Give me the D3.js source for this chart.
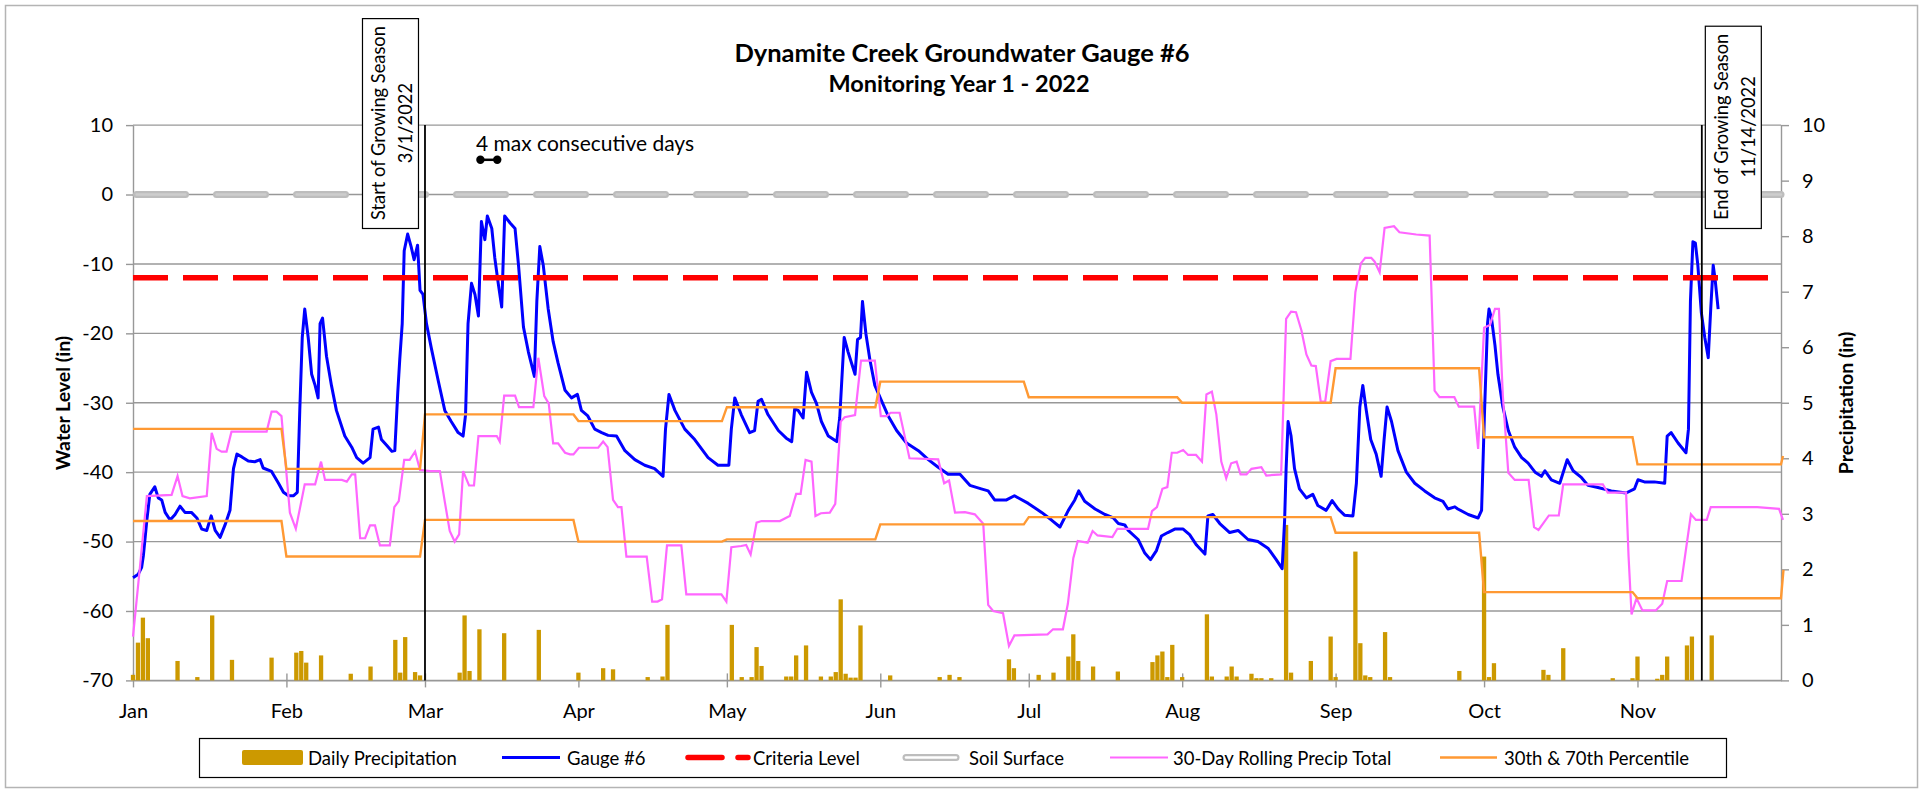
<!DOCTYPE html>
<html><head><meta charset="utf-8">
<script src="https://cdn.jsdelivr.net/npm/d3@7"></script>
<style>
body{margin:0;background:#fff;}
svg{display:block;font-family:Lato,"Liberation Sans",sans-serif;}
</style>
</head><body>
<svg id="c" width="1929" height="789"></svg>
<script>
// ---------------- DATA ----------------
const monthLabels = ["Jan","Feb","Mar","Apr","May","Jun","Jul","Aug","Sep","Oct","Nov"];
const levelTicks = [10,0,-10,-20,-30,-40,-50,-60,-70];
const precipTicks = [0,1,2,3,4,5,6,7,8,9,10];
const titleLines = ["Dynamite Creek Groundwater Gauge #6","Monitoring Year 1 - 2022"];
const legendLabels = ["Daily Precipitation","Gauge #6","Criteria Level","Soil Surface","30-Day Rolling Precip Total","30th & 70th Percentile"];

// day offsets from 2022-01-01
const gaugeDay = [0,1.07,1.75,2.1,2.8,3.4,4.4,5.1,5.8,6.5,7.5,8.5,9.5,10.5,11.8,12.9,13.9,14.9,15.8,16.6,17.6,18.6,19.6,20.3,21,22,23.3,24.6,25.7,26.3,28,29.4,30.4,31.4,32.4,33.2,33.7,34.2,34.7,35.4,36.1,36.8,37.4,37.8,38.3,39.1,40.1,41.1,42.8,44.2,45.2,46.5,47.9,48.5,49.6,50.2,51.2,52.3,52.9,53.5,53.9,54.4,54.8,55.5,56.2,56.8,57.5,58,58.6,59.3,60.3,61.7,63,64.3,65.7,66.7,67.2,67.7,68.4,69.1,69.8,70.4,71.1,71.6,72.5,73.1,73.8,74.5,75.1,76.2,77.2,77.9,78.9,79.9,81.1,81.6,82.2,82.9,83.9,84.9,85.9,87.3,88.6,89.8,90.6,91.9,93.3,94.7,96,97.7,99.4,101.4,103.4,105.4,107.1,107.6,108.3,109.5,111.5,113.5,116.2,118.2,120.4,120.9,121.6,122.9,124.6,125.6,126.3,127,128.3,130.4,132,133.1,133.7,134.4,135.4,136.1,137.1,138.1,139.1,140.5,142.2,142.8,143.7,144.5,145.9,146.4,147,147.4,148.1,148.9,149.9,151.3,152.6,154.3,156.3,158.7,160.7,162.7,164.7,167.1,169.1,171.4,172.8,174.1,176.5,178.1,180.9,183.6,185.6,187.3,189,190.3,191.1,192.3,194.4,196.4,198.1,199.1,200.4,201.1,203.1,204.4,205.6,206.8,207.8,209.1,210.5,212.2,213.5,214.9,216.6,217.2,218.2,219.6,221.6,223.3,225.3,227.3,229.4,231,232.2,232.7,233,233.4,234,234.7,235.7,237.1,238.4,239.4,241.1,242.3,243.5,244.8,246.5,247.2,247.9,248.5,249.2,250.1,251.2,252.2,252.8,253.4,254.3,255.6,257.3,259,261,263,264.7,265.7,267.1,267.7,269.8,271.8,272.5,273.1,273.7,274,274.5,275.2,275.8,276.8,277.9,279.2,280.6,281.9,283.3,284.6,285.3,286.6,288.3,289.8,291,292.7,294,296,298.7,301.7,303.4,304.1,305.4,307.4,309.5,310,310.8,312.2,313.8,314.3,314.7,315.2,315.7,316.2,316.9,317.6,318.3,318.8,319.3,319.7,320.3];
const gaugeLevel = [-55.2,-54.7,-53.7,-52,-46.9,-43.2,-42.1,-43.7,-44,-45.8,-46.9,-46.1,-44.9,-45.8,-45.8,-46.6,-48.2,-48.4,-46.3,-48.4,-49.4,-47.6,-45.5,-39.5,-37.4,-37.8,-38.4,-38.5,-38.2,-39.4,-39.9,-41.6,-42.9,-43.4,-43.4,-42.9,-31.1,-20.6,-16.5,-20.6,-25.9,-27.5,-29.3,-18.6,-17.8,-23.3,-27.5,-31.1,-34.8,-36.4,-37.9,-38.7,-37.9,-33.8,-33.5,-35.3,-36.1,-37,-36.9,-28.5,-23.8,-18.6,-8.1,-5.7,-7.5,-9.4,-7.3,-13.8,-14.4,-18.6,-22.2,-26.9,-31.1,-32.7,-34.3,-34.8,-31.7,-18.6,-12.8,-14.4,-17.5,-3.9,-6.5,-3.1,-4.9,-9.1,-12.8,-16.2,-3.1,-4.1,-4.9,-10.2,-19.1,-22.7,-26.2,-15.4,-7.5,-10.2,-16.5,-21.2,-24.3,-28.2,-29.3,-28.8,-31.1,-31.9,-33.8,-34.3,-34.7,-34.8,-36.9,-38.2,-39,-39.5,-40.6,-33.8,-28.8,-31.1,-33.8,-35.3,-37.9,-39,-39,-33.8,-29.3,-31.7,-34.3,-34,-29.8,-29.5,-31.7,-34,-35.1,-35.6,-30.9,-31.1,-32.2,-25.6,-28.5,-30.1,-32.7,-34.8,-35.6,-32.2,-20.6,-22.7,-25.9,-20.9,-20.6,-15.4,-20.1,-23.8,-27.5,-29.8,-31.9,-34,-35.8,-36.9,-38.2,-39.3,-40.3,-40.3,-41.9,-42.4,-42.7,-44,-44,-43.4,-44.5,-45.8,-46.9,-47.9,-45.5,-44,-42.7,-44.2,-45.3,-46.1,-46.6,-47.4,-47.6,-48.4,-49.7,-51.6,-52.6,-51.3,-49.2,-48.7,-48.2,-48.2,-49,-50.5,-51.8,-46.3,-46.1,-47.4,-48.7,-48.4,-49.7,-50,-51,-52.6,-53.9,-46.9,-39.5,-32.7,-34.8,-39.5,-42.4,-43.7,-43.2,-44.8,-45.5,-44.1,-45.3,-46.2,-46.3,-41.6,-30.6,-27.5,-31.1,-35.3,-37.4,-40.6,-35.3,-30.6,-32.7,-36.9,-40,-41.6,-42.7,-43.7,-44.2,-45.3,-45,-45.3,-46.1,-46.6,-45.5,-31.1,-18.6,-16.5,-17.8,-21.7,-25.9,-30.6,-34,-36.4,-37.9,-38.7,-40,-40.6,-39.8,-41.1,-41.6,-38.2,-39.8,-40.8,-41.9,-42.2,-42.7,-43,-42.4,-41.1,-41.4,-41.4,-41.6,-34.8,-34.3,-35.8,-37.2,-33.8,-15.4,-6.8,-7,-10.2,-17,-20.6,-23.5,-16.5,-10.2,-12.3,-16.5];

const precipDay = [0,1,2,3,9,13,16,20,28,33,34,35,38,44,48,53,54,55,57,58,66,67,68,70,75,82,90,95,97,104,107,108,121,123,125,126,127,132,133,134,136,139,141,142,143,144,145,146,147,153,163,165,167,177,178,183,186,189,190,191,194,199,206,207,208,209,210,212,217,218,221,222,223,226,227,228,230,233,234,238,242,243,247,248,249,250,253,254,268,273,274,275,285,286,289,299,303,304,308,309,310,314,315,319];
const precipValue = [0.1,0.68,1.13,0.76,0.35,0.06,1.17,0.37,0.41,0.5,0.53,0.32,0.45,0.12,0.25,0.73,0.14,0.78,0.15,0.09,0.14,1.17,0.17,0.92,0.85,0.91,0.14,0.22,0.2,0.06,0.07,1.0,1.0,0.06,0.06,0.6,0.26,0.07,0.07,0.45,0.63,0.07,0.07,0.15,1.46,0.12,0.05,0.05,0.99,0.09,0.06,0.1,0.06,0.38,0.22,0.1,0.14,0.43,0.83,0.35,0.25,0.16,0.33,0.45,0.52,0.06,0.64,0.06,1.19,0.07,0.07,0.25,0.07,0.12,0.04,0.04,0.04,2.8,0.14,0.35,0.79,0.06,2.32,0.67,0.09,0.06,0.87,0.06,0.17,2.23,0.06,0.31,0.19,0.1,0.58,0.04,0.04,0.43,0.03,0.1,0.43,0.63,0.79,0.81];

const rollDay = [0,1.4,2.8,7.8,9,10,11.5,14.9,15.9,16.9,17.9,18.9,19.9,27,28,29,30,31.7,32.9,34.7,36.8,38,38.8,42.2,43.2,44.2,44.9,45.9,46.9,47.9,48.9,49.9,51.9,52.8,53.7,54.8,55.9,57,58,60,62,63,64,65,65.9,66.7,67.9,68.9,69.8,73.5,74.1,75,77.2,78,80.9,81.9,83.1,84,84.9,85.9,87.3,88.3,89,90.1,94,95,95.9,97,98,98.7,99.7,103.8,104.9,106,106.9,107.9,110.8,111.8,118.9,119.9,120.9,122.9,123.9,124.8,126,127,130.7,132.7,134,134.9,135.9,137.1,137.9,139,140.8,141.9,143,143.8,145.9,147.1,149.9,151.1,152.3,153.1,154.9,156.9,162.7,163.9,164.9,166.1,168.1,170.1,171.8,172.8,173.8,175.8,177,178.1,184.8,185.9,187.9,188.9,190,190.9,192.9,193.9,194.9,197.9,198.9,205.1,205.9,206.9,208,209,209.9,211,212.2,213.2,214.8,216,216.9,218,218.9,219.9,220.9,221.9,223,223.8,225,226,228,229,232,233,234,235,236.1,237.1,238.1,239,240,240.9,242,243.2,246,247,248.1,249,250.2,250.9,251.9,252.9,254.8,255.9,259.3,262,262.5,263,264,267,267.9,271,271.8,273,274.2,275.2,276,276.8,277.9,279.2,282,283.1,284,286.1,288.1,289,297,298,301.7,302.2,302.8,303.8,305,307.7,309,310,312.9,314.8,315.8,318,318.8,328.2,332.6,333.4];
const rollValue = [0.79,2.04,3.32,3.34,3.68,3.32,3.28,3.32,4.46,4.17,4.12,4.12,4.48,4.48,4.84,4.84,4.76,3.02,2.73,3.53,3.53,3.94,3.61,3.61,3.58,3.71,3.71,2.56,2.56,2.79,2.79,2.43,2.43,3.12,3.23,3.97,3.97,4.12,3.79,3.77,3.77,3.22,2.69,2.5,2.63,3.77,3.51,3.51,4.4,4.4,4.3,5.13,5.13,4.92,4.92,5.81,5.12,4.99,4.27,4.27,4.1,4.07,4.07,4.19,4.19,4.3,4.2,3.25,3.12,3.12,2.23,2.23,1.42,1.42,1.46,2.43,2.43,1.55,1.55,1.42,2.4,2.42,2.44,2.27,2.84,2.87,2.87,2.96,3.36,3.36,3.97,3.94,2.96,3.01,3.02,3.18,4.66,4.74,4.78,5.76,5.76,4.76,4.76,4.82,4.82,4.0,3.98,3.55,3.6,3.02,3.03,2.99,2.82,1.36,1.25,1.21,0.62,0.81,0.83,0.92,0.92,1.38,2.2,2.51,2.48,2.69,2.61,2.58,2.73,2.73,3.05,3.12,3.45,3.48,4.1,4.1,4.15,4.06,4.06,3.94,5.15,5.2,4.79,3.94,3.64,3.91,3.94,3.71,3.71,3.81,3.84,3.69,3.71,6.51,6.64,6.63,6.3,5.87,5.67,5.66,5.02,5.02,5.75,5.79,5.79,6.99,7.51,7.61,7.61,7.54,7.35,8.15,8.18,8.07,8.03,8.01,6.63,5.22,5.1,5.1,4.93,4.93,4.17,6.35,6.4,6.69,6.69,5.12,3.74,3.61,3.61,2.76,2.71,2.97,2.97,3.53,3.53,3.38,3.38,2.23,1.19,1.48,1.26,1.26,1.38,1.79,1.79,2.99,2.89,2.89,3.12,3.12,3.09,2.89];

const p70Day = [0,30,31,58,59,89,90,119,120,150,151,180,181,211,212,242,243,272,273,303,304,333,333.4];
const p70Value = [4.53,4.53,3.81,3.81,4.79,4.79,4.67,4.67,4.92,4.92,5.38,5.38,5.1,5.1,5.0,5.0,5.62,5.62,4.38,4.38,3.89,3.89,4.04];
const p30Day = [0,30,31,58,59,89,90,119,120,150,151,180,181,242,243,272,273,303,304,333,333.5];
const p30Value = [2.87,2.87,2.23,2.23,2.89,2.89,2.5,2.5,2.54,2.54,2.81,2.81,2.94,2.94,2.66,2.66,1.59,1.59,1.48,1.48,1.99];

const criteriaLevel = -12;
const soilSurface = 0;
const seasonDates = ["2022-03-01","2022-11-14"];
const seasonLabels = [["Start of Growing Season","3/1/2022"],["End of Growing Season","11/14/2022"]];
const consecDay = [70.2, 73.6];
const consecLevel = 5;
const consecLabel = "4 max consecutive days";

// ---------------- SETUP ----------------
const svg = d3.select("#c");
const t0 = new Date(2022,0,1);
const dayDate = d => new Date(t0.getTime() + d*86400000);
const L = 133, R = 1781, T = 125.1, B = 680.4;
const x = d3.scaleTime().domain([new Date(2022,0,1), new Date(2022,10,30)]).range([L,R]);
const y = d3.scaleLinear().domain([-70,10]).range([B,T]);
const yR = d3.scaleLinear().domain([0,10]).range([B,T]);
const gridCol = "#989898";

// outer border
svg.append("rect").attr("x",5.5).attr("y",5.5).attr("width",1912).attr("height",782)
  .attr("fill","#fff").attr("stroke","#b4b4b4").attr("stroke-width",1.5);

// title
svg.append("text").attr("x",962).attr("y",62).attr("text-anchor","middle")
  .attr("font-weight","bold").attr("font-size",25.5).attr("fill","#000").text(titleLines[0]);
svg.append("text").attr("x",959).attr("y",92).attr("text-anchor","middle")
  .attr("font-weight","bold").attr("font-size",23.5).attr("fill","#000").text(titleLines[1]);

// gridlines
svg.append("g").selectAll("line").data(levelTicks).join("line")
  .attr("x1",L).attr("x2",R).attr("y1",d=>y(d)).attr("y2",d=>y(d))
  .attr("stroke",gridCol).attr("stroke-width",1.4);

// axes
const styleAxis = g => {
  g.attr("font-family",null).attr("font-size",null);
  g.select(".domain").attr("stroke",gridCol).attr("stroke-width",1.4);
  g.selectAll(".tick line").attr("stroke",gridCol).attr("stroke-width",1.4);
  g.selectAll(".tick text").attr("font-size",20).attr("fill","#000");
};
svg.append("g").attr("transform",`translate(${L},0)`)
  .call(d3.axisLeft(y).tickValues(levelTicks).tickSize(7).tickSizeOuter(0).tickPadding(13).tickFormat(d=>String(d)))
  .call(styleAxis);
svg.append("g").attr("transform",`translate(${R},0)`)
  .call(d3.axisRight(yR).tickValues(precipTicks).tickSize(8).tickSizeOuter(0).tickPadding(13).tickFormat(d=>String(d)))
  .call(styleAxis);
const monthDates = monthLabels.map((m,i)=>new Date(2022,i,1));
const gx = svg.append("g").attr("transform",`translate(0,${B})`)
  .call(d3.axisBottom(x).tickValues(monthDates).tickSize(7).tickSizeOuter(0).tickPadding(16).tickFormat((d,i)=>monthLabels[i]))
  .call(styleAxis);
gx.selectAll(".tick line").attr("y1",-7).attr("y2",7);

// axis titles
svg.append("text").attr("transform","translate(70,403) rotate(-90)").attr("text-anchor","middle")
  .attr("font-weight","bold").attr("font-size",19.5).text("Water Level (in)");
svg.append("text").attr("transform","translate(1853,403) rotate(-90)").attr("text-anchor","middle")
  .attr("font-weight","bold").attr("font-size",19.5).text("Precipitation (in)");

// precipitation bars
const barW = 4.3;
svg.append("g").selectAll("rect").data(precipDay.map((d,i)=>({d, v:precipValue[i]}))).join("rect")
  .attr("x",d=>x(dayDate(d.d))-barW/2).attr("width",barW)
  .attr("y",d=>yR(d.v)).attr("height",d=>yR(0)-yR(d.v))
  .attr("fill","#cc9900");

// gauge line
const gaugeLine = d3.line().x(d=>x(dayDate(d[0]))).y(d=>y(d[1]));
svg.append("path").datum(gaugeDay.map((d,i)=>[d,gaugeLevel[i]]))
  .attr("d",gaugeLine).attr("fill","none").attr("stroke","#0000ff").attr("stroke-width",3)
  .attr("stroke-linejoin","round");

// criteria level
svg.append("line").attr("x1",L).attr("x2",R).attr("y1",y(criteriaLevel)).attr("y2",y(criteriaLevel))
  .attr("stroke","#ff0000").attr("stroke-width",5.5).attr("stroke-dasharray","35,15");

// soil surface (double line look)
svg.append("line").attr("x1",L+3.5).attr("x2",R).attr("y1",y(soilSurface)).attr("y2",y(soilSurface))
  .attr("stroke","#bdbdbd").attr("stroke-width",7).attr("stroke-linecap","round").attr("stroke-dasharray","49,31");
svg.append("line").attr("x1",L+3.5).attr("x2",R).attr("y1",y(soilSurface)).attr("y2",y(soilSurface))
  .attr("stroke","#cdcdcd").attr("stroke-width",2.4).attr("stroke-linecap","round").attr("stroke-dasharray","49,31");

// rolling precip
const rLine = d3.line().x(d=>x(dayDate(d[0]))).y(d=>yR(d[1]));
svg.append("path").datum(rollDay.map((d,i)=>[d,rollValue[i]]))
  .attr("d",rLine).attr("fill","none").attr("stroke","#ff66ff").attr("stroke-width",2.2);

// percentiles
[[p70Day,p70Value],[p30Day,p30Value]].forEach(([dd,vv])=>{
  svg.append("path").datum(dd.map((d,i)=>[d,vv[i]]))
    .attr("d",rLine).attr("fill","none").attr("stroke","#ff9933").attr("stroke-width",2.4);
});

// growing season lines + labels
seasonDates.forEach((s,i)=>{
  const [yy,mm,dd] = s.split("-").map(Number);
  const xs = x(new Date(yy,mm-1,dd));
  svg.append("line").attr("x1",xs).attr("x2",xs).attr("y1",T).attr("y2",B)
    .attr("stroke","#000").attr("stroke-width",1.8);
  const x0 = i===0 ? xs-63 : xs+3;
  const g = svg.append("g");
  const box = g.append("rect");
  const texts = seasonLabels[i].map((t,j)=>g.append("text")
    .attr("text-anchor","middle").attr("dominant-baseline","central")
    .attr("font-size",18.3).attr("fill","#000").text(t));
  const maxLen = d3.max(texts, t=>t.node().getComputedTextLength());
  const bottom = 228, top = bottom - maxLen - 16, cy = (top+bottom)/2;
  texts.forEach((t,j)=>t.attr("transform",`translate(${x0+16+j*27},${cy}) rotate(-90)`));
  box.attr("x",x0+0.5).attr("y",top+0.5).attr("width",56).attr("height",bottom-top)
    .attr("fill","#fff").attr("stroke","#000").attr("stroke-width",1.2);
});

// consecutive days marker
const cg = svg.append("g");
cg.append("line").attr("x1",x(dayDate(consecDay[0]))).attr("x2",x(dayDate(consecDay[1])))
  .attr("y1",y(consecLevel)).attr("y2",y(consecLevel)).attr("stroke","#000").attr("stroke-width",2.5);
cg.selectAll("circle").data(consecDay).join("circle")
  .attr("cx",d=>x(dayDate(d))).attr("cy",y(consecLevel)).attr("r",4.2).attr("fill","#000");
svg.append("text").attr("x",476).attr("y",151).attr("font-size",21).attr("fill","#000").text(consecLabel);

// legend
svg.append("rect").attr("x",199.5).attr("y",738.5).attr("width",1527).attr("height",39)
  .attr("fill","#fff").attr("stroke","#000").attr("stroke-width",1.2);
const ly = 757.5;
const lg = svg.append("g");
lg.append("rect").attr("x",242).attr("y",750).attr("width",61).attr("height",15).attr("rx",2).attr("fill","#cc9900");
lg.append("line").attr("x1",502).attr("x2",560).attr("y1",ly).attr("y2",ly).attr("stroke","#0000ff").attr("stroke-width",3);
lg.append("line").attr("x1",688).attr("x2",748).attr("y1",ly).attr("y2",ly).attr("stroke","#ff0000").attr("stroke-width",5.5)
  .attr("stroke-dasharray","34,16").attr("stroke-linecap","round");
lg.append("line").attr("x1",906).attr("x2",956).attr("y1",ly).attr("y2",ly).attr("stroke","#bdbdbd").attr("stroke-width",7).attr("stroke-linecap","round");
lg.append("line").attr("x1",906).attr("x2",956).attr("y1",ly).attr("y2",ly).attr("stroke","#fff").attr("stroke-width",2.6).attr("stroke-linecap","round");
lg.append("line").attr("x1",1110).attr("x2",1168).attr("y1",ly).attr("y2",ly).attr("stroke","#ff66ff").attr("stroke-width",2.2);
lg.append("line").attr("x1",1440).attr("x2",1497).attr("y1",ly).attr("y2",ly).attr("stroke","#ff9933").attr("stroke-width",2.4);
const legendX = [308,567,753,969,1173,1504];
legendLabels.forEach((t,i)=>lg.append("text").attr("x",legendX[i]).attr("y",ly).attr("dominant-baseline","central")
  .attr("font-size",18.5).attr("fill","#000").text(t));
</script>
</body></html>
